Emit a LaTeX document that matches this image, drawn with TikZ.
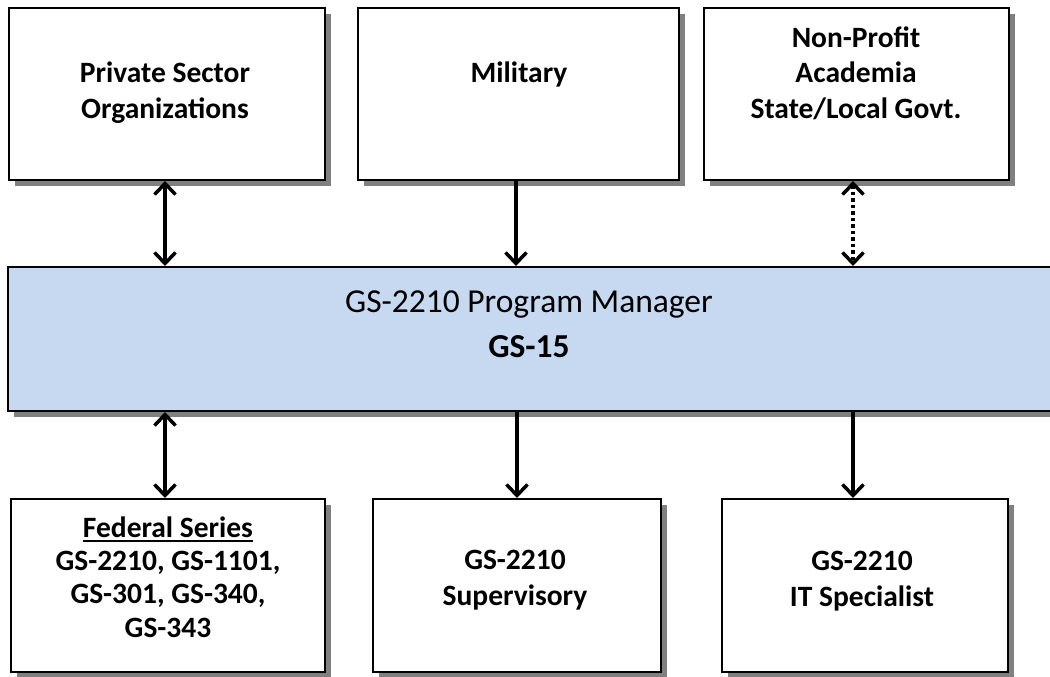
\documentclass[tikz,border=0pt]{standalone}
\usepackage{fontspec}
\setmainfont{Carlito}
\usetikzlibrary{arrows.meta,shadows}
\definecolor{barblue}{HTML}{C6D9F1}
\definecolor{shadowgray}{HTML}{808080}
\newcommand\fedul[1]{\setbox0=\hbox{#1}\rlap{\rule[-5pt]{\wd0}{2pt}}\box0}
\begin{document}
\begin{tikzpicture}[x=1pt,y=-1pt,
  boxshape/.style={draw=black, line width=2pt, fill=white, inner sep=0pt,
    drop shadow={shadow xshift=6pt,shadow yshift=-6pt,fill=shadowgray,opacity=1}},
  barshape/.style={boxshape, fill=barblue},
  boxtext/.style={inner sep=0pt, align=center, anchor=base,
    font=\fontsize{29.5}{35.5}\selectfont\bfseries},
  lowtext/.style={boxtext, font=\fontsize{29.5}{33.2}\selectfont\bfseries},
  bartext/.style={inner sep=0pt, align=center, anchor=base,
    font=\fontsize{33.5}{45}\selectfont},
  conn/.style={line width=3.5pt, black},
  onehead/.style={-{Straight Barb[length=11pt,width=21pt]}},
  twohead/.style={{Straight Barb[length=11pt,width=21pt]}-{Straight Barb[length=11pt,width=21pt]}},
  dotline/.style={dash pattern=on 3.5pt off 3pt}
]
\clip (0,0) rectangle (1050,677);
\useasboundingbox (0,0) rectangle (1050,677);

% top boxes
\node[boxshape, minimum width=316pt, minimum height=172pt] (b1) at (167,94) {};
\node[boxshape, minimum width=321pt, minimum height=172pt] (b2) at (518.5,94) {};
\node[boxshape, minimum width=305pt, minimum height=172pt] (b3) at (856.5,94) {};

% main bar
\node[barshape, minimum width=1060pt, minimum height=144pt] (pm) at (538,339) {};

% bottom boxes
\node[boxshape, minimum width=314pt, minimum height=173pt] (b4) at (168,585.5) {};
\node[boxshape, minimum width=288pt, minimum height=173pt] (b5) at (517,585.5) {};
\node[boxshape, minimum width=286pt, minimum height=173pt] (b6) at (865,585.5) {};

% texts (anchored at the baseline of their last line)
\node[boxtext] (t1) at (165,118) {Private Sector\\Organizations};
\node[boxtext] (t2) at (519,82) {Military};
\node[boxtext] (t3) at (856,118) {Non-Profit\\Academia\\State/Local Govt.};
\node[bartext] (pmt) at (529,357) {GS-2210 Program Manager\\\textbf{GS-15}};
\node[lowtext] (t4) at (168,637) {\fedul{Federal Series}\\GS-2210, GS-1101,\\GS-301, GS-340,\\GS-343};
\node[boxtext] (t5) at (515,605) {GS-2210\\Supervisory};
\node[boxtext] (t6) at (862,606) {GS-2210\\IT Specialist};

% connector columns
\coordinate (xa) at (165,0);
\coordinate (xb) at (516,0);
\coordinate (xc) at (853,0);
\coordinate (xd) at (517,0);

\draw[conn, twohead] (b1.south -| xa) -- (pm.north -| xa);
\draw[conn, onehead] (b2.south -| xb) -- (pm.north -| xb);
\draw[conn, twohead, dotline] (b3.south -| xc) -- (pm.north -| xc);
\draw[conn, twohead] (pm.south -| xa) -- (b4.north -| xa);
\draw[conn, onehead] (pm.south -| xd) -- (b5.north -| xd);
\draw[conn, onehead] (pm.south -| xc) -- (b6.north -| xc);
\end{tikzpicture}
\end{document}
